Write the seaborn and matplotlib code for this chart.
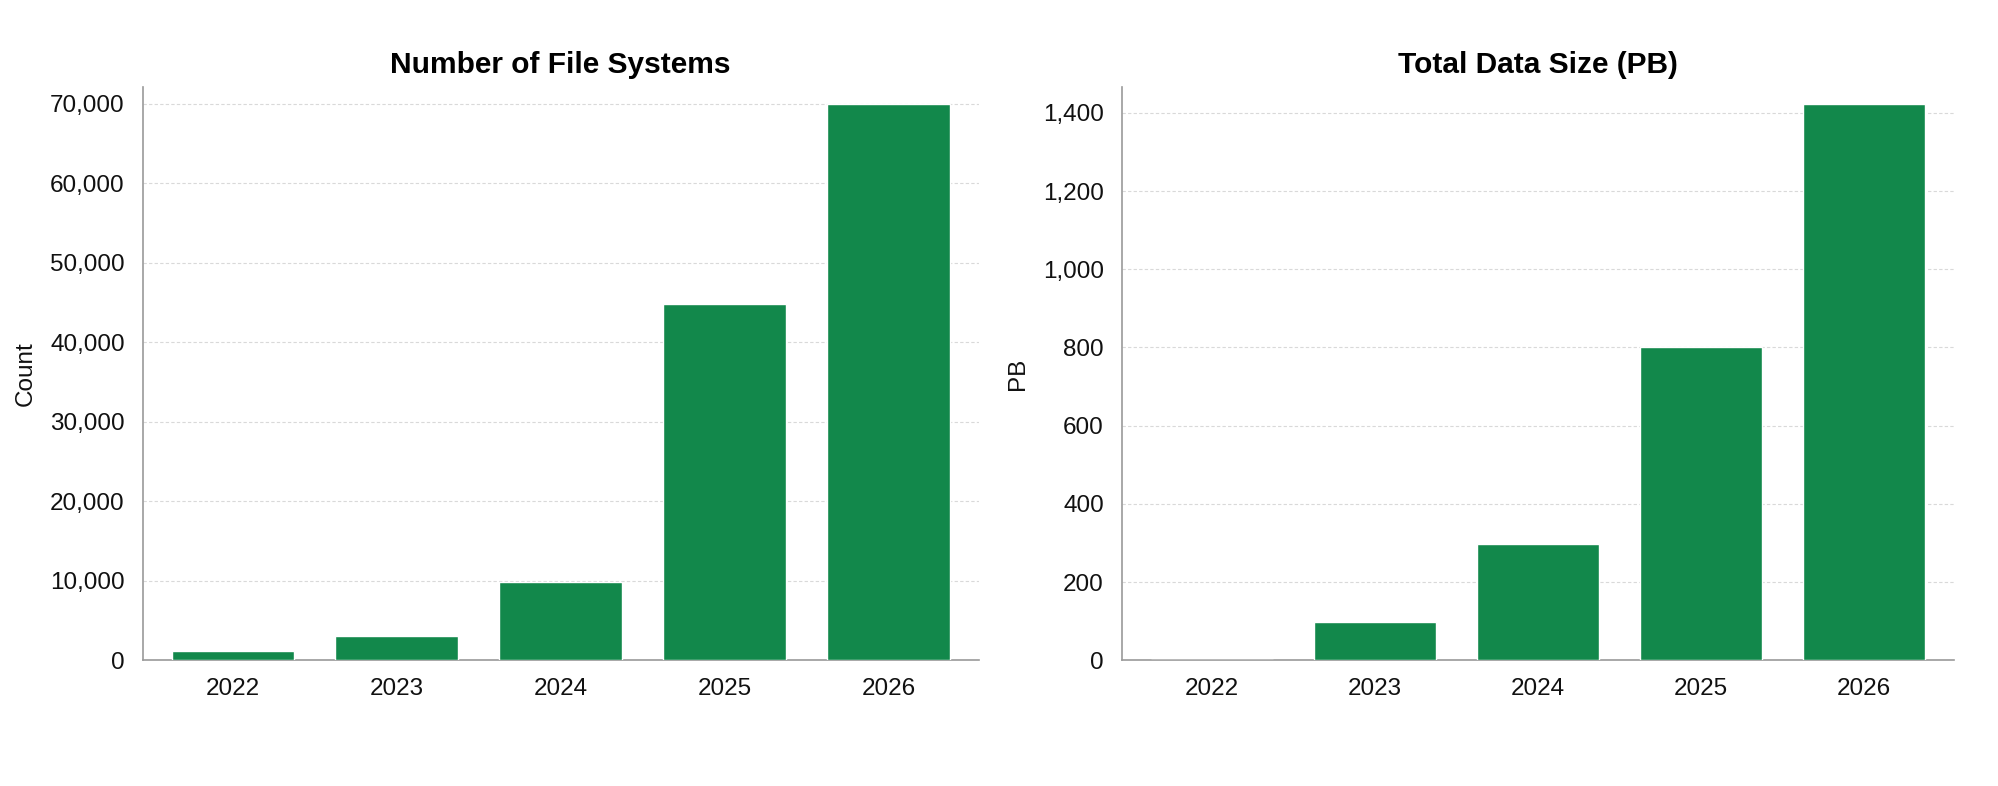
import matplotlib
matplotlib.use("Agg")
import matplotlib.pyplot as plt
import seaborn as sns
import pandas as pd
from matplotlib.ticker import FuncFormatter

# data
years = ["2022", "2023", "2024", "2025", "2026"]
fs_count = [1200, 3100, 9900, 44800, 70000]
data_pb = [0, 98, 297, 800, 1423]

green = "#12884b"
spine_col = "#9a9a9a"

sns.set_style("white")
plt.rcParams["font.family"] = ["Liberation Sans", "DejaVu Sans"]

df = pd.DataFrame({"Year": years, "Count": fs_count, "PB": data_pb})

fig = plt.figure(figsize=(19.99, 7.86), dpi=100)
ax1 = fig.add_axes([0.0715, 0.160, 0.418, 0.729])
ax2 = fig.add_axes([0.5613, 0.160, 0.4162, 0.729])

panels = [
    (ax1, "Count", "Number of File Systems", "Count"),
    (ax2, "PB", "Total Data Size (PB)", "PB"),
]

for ax, col, title, ylab in panels:
    sns.barplot(data=df, x="Year", y=col, color=green, width=0.75,
                saturation=1, ax=ax, zorder=3)
    ax.set_title(title, fontsize=21.5, fontweight="bold", pad=10, color="black")
    ax.set_xlabel("")
    ax.set_ylabel(ylab, fontsize=17.5, labelpad=10, color="#111111")
    ax.set_xlim(-0.55, 4.55)
    ax.set_ylim(0, max(df[col]) * 1.03)
    ax.yaxis.set_major_formatter(FuncFormatter(lambda v, p: f"{v:,.0f}"))
    ax.grid(axis="y", color="#d9d9d9", linestyle=(0, (3, 2)), linewidth=0.8, zorder=0)
    sns.despine(ax=ax)
    for s in ("left", "bottom"):
        ax.spines[s].set_color(spine_col)
        ax.spines[s].set_linewidth(1.2)
    ax.tick_params(axis="both", labelsize=17.5, colors=spine_col, labelcolor="#111111",
                   length=6, width=1.0, pad=7)

ax1.set_yticks(range(0, 70001, 10000))
ax2.set_yticks(range(0, 1401, 200))

fig.savefig("out.png", dpi=100, facecolor="white")
